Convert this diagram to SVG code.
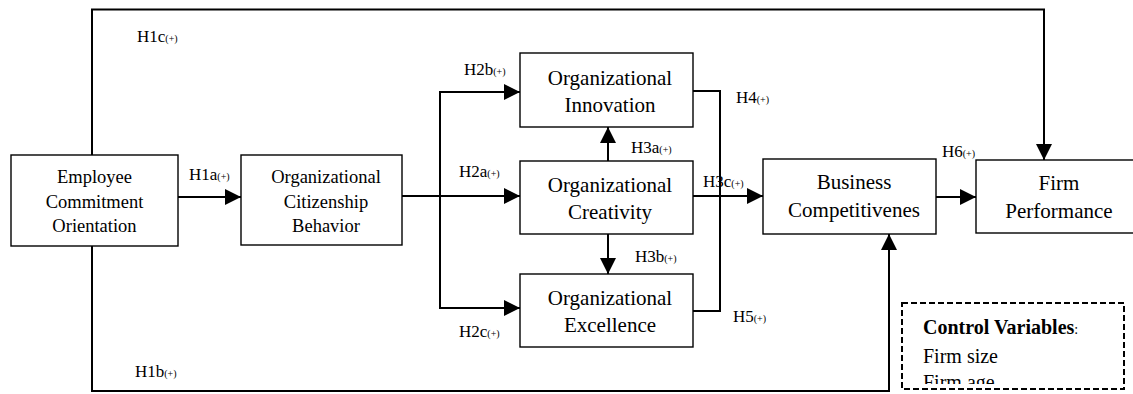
<svg xmlns="http://www.w3.org/2000/svg" width="1133" height="394" viewBox="0 0 1133 394">
<style>
.box{fill:#fff;stroke:#000;stroke-width:1.4}
.ln{fill:none;stroke:#000;stroke-width:2}
.t{font-family:"Liberation Serif","Times New Roman",serif;fill:#000;text-anchor:middle}
.lb{font-family:"Liberation Serif","Times New Roman",serif;fill:#000;font-size:17px}
.sm{font-size:10px}
.cv{font-family:"Liberation Serif","Times New Roman",serif;fill:#000;font-size:20px}
</style>
<defs>
<marker id="ah" markerUnits="userSpaceOnUse" markerWidth="16" markerHeight="16" refX="16" refY="8" orient="auto">
<path d="M0,0 L16,8 L0,16 Z" fill="#000"/>
</marker>
<clipPath id="cvclip"><rect x="900" y="300" width="230" height="84"/></clipPath>
</defs>
<rect width="1133" height="394" fill="#fff"/>
<g id="connectors">
<line class="ln" x1="178" y1="197" x2="241" y2="197" marker-end="url(#ah)"/>
<line class="ln" x1="402" y1="196" x2="440" y2="196"/>
<line class="ln" x1="440" y1="91" x2="440" y2="309"/>
<line class="ln" x1="440" y1="92" x2="520" y2="92" marker-end="url(#ah)"/>
<line class="ln" x1="440" y1="196" x2="520" y2="196" marker-end="url(#ah)"/>
<line class="ln" x1="440" y1="308" x2="520" y2="308" marker-end="url(#ah)"/>
<line class="ln" x1="608" y1="161" x2="608" y2="127" marker-end="url(#ah)"/>
<line class="ln" x1="608" y1="234" x2="608" y2="274" marker-end="url(#ah)"/>
<polyline class="ln" points="693,91 720,91 720,311 693,311"/>
<line class="ln" x1="693" y1="196" x2="763" y2="196" marker-end="url(#ah)"/>
<line class="ln" x1="936" y1="197" x2="976" y2="197" marker-end="url(#ah)"/>
<polyline class="ln" points="92,155 92,9.5 1044,9.5 1044,160" marker-end="url(#ah)"/>
<polyline class="ln" points="92,246 92,391 889,391 889,234" marker-end="url(#ah)"/>
</g>
<g id="labels">
<text class="lb" x="137" y="42">H1c<tspan class="sm">(+)</tspan></text>
<text class="lb" x="189" y="180">H1a<tspan class="sm">(+)</tspan></text>
<text class="lb" x="135" y="377">H1b<tspan class="sm">(+)</tspan></text>
<text class="lb" x="464" y="75">H2b<tspan class="sm">(+)</tspan></text>
<text class="lb" x="459" y="177">H2a<tspan class="sm">(+)</tspan></text>
<text class="lb" x="459" y="337">H2c<tspan class="sm">(+)</tspan></text>
<text class="lb" x="631" y="153">H3a<tspan class="sm">(+)</tspan></text>
<text class="lb" x="635" y="262">H3b<tspan class="sm">(+)</tspan></text>
<text class="lb" x="736" y="103">H4<tspan class="sm">(+)</tspan></text>
<text class="lb" x="703" y="187">H3c<tspan class="sm">(+)</tspan></text>
<text class="lb" x="733" y="322">H5<tspan class="sm">(+)</tspan></text>
<text class="lb" x="942" y="157">H6<tspan class="sm">(+)</tspan></text>
</g>
<g id="employee">
<rect class="box" x="11" y="155" width="167" height="91"/>
<text class="t" font-size="18.5" x="94.5"><tspan x="94.5" y="183">Employee</tspan><tspan x="94.5" y="208">Commitment</tspan><tspan x="94.5" y="232">Orientation</tspan></text>
</g>
<g id="ocb">
<rect class="box" x="241" y="155" width="161" height="90"/>
<text class="t" font-size="18.5"><tspan x="326" y="183">Organizational</tspan><tspan x="326" y="208">Citizenship</tspan><tspan x="326" y="232">Behavior</tspan></text>
</g>
<g id="innovation">
<rect class="box" x="520" y="53" width="173" height="74"/>
<text class="t" font-size="21"><tspan x="610" y="85">Organizational</tspan><tspan x="610" y="112">Innovation</tspan></text>
</g>
<g id="creativity">
<rect class="box" x="520" y="161" width="173" height="73"/>
<text class="t" font-size="21"><tspan x="610" y="192">Organizational</tspan><tspan x="610" y="219">Creativity</tspan></text>
</g>
<g id="excellence">
<rect class="box" x="520" y="274" width="173" height="73"/>
<text class="t" font-size="21"><tspan x="610" y="305">Organizational</tspan><tspan x="610" y="332">Excellence</tspan></text>
</g>
<g id="business">
<rect class="box" x="763" y="159" width="173" height="75"/>
<text class="t" font-size="21"><tspan x="854" y="189">Business</tspan><tspan x="854" y="217">Competitivenes</tspan></text>
</g>
<g id="performance">
<rect class="box" x="976" y="160" width="170" height="73"/>
<text class="t" font-size="21"><tspan x="1059" y="190">Firm</tspan><tspan x="1059" y="218">Performance</tspan></text>
</g>
<g id="control">
<rect x="902" y="303" width="222" height="86" fill="#fff" stroke="#000" stroke-width="2" stroke-dasharray="6,3"/>
<text class="cv" x="923" y="334" font-weight="bold">Control Variables<tspan font-weight="normal" font-size="14">:</tspan></text>
<text class="cv" x="923" y="363">Firm size</text>
<text class="cv" x="923" y="389" clip-path="url(#cvclip)">Firm age</text>
</g>
</svg>
